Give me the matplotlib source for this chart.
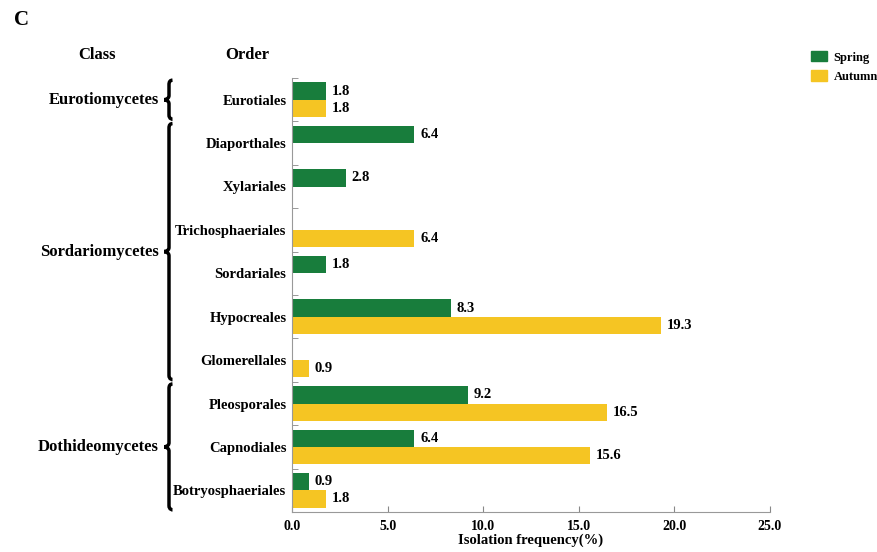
import numpy as np
import matplotlib.pyplot as plt
import matplotlib.transforms as mtransforms
from matplotlib.path import Path
from matplotlib.patches import PathPatch, Patch

plt.rcParams['font.family'] = ['Liberation Serif', 'DejaVu Serif']
plt.rcParams['font.weight'] = 'bold'

orders = ['Eurotiales', 'Diaporthales', 'Xylariales', 'Trichosphaeriales',
          'Sordariales', 'Hypocreales', 'Glomerellales', 'Pleosporales',
          'Capnodiales', 'Botryosphaeriales']
spring = [1.8, 6.4, 2.8, None, 1.8, 8.3, None, 9.2, 6.4, 0.9]
autumn = [1.8, None, None, 6.4, None, 19.3, 0.9, 16.5, 15.6, 1.8]
classes = ['Eurotiomycetes', 'Sordariomycetes', 'Dothideomycetes']
class_span = [(0, 0), (1, 6), (7, 9)]  # first/last order index per class

green = '#187d3c'
yellow = '#f5c523'

fig = plt.figure(figsize=(8.78, 5.52), dpi=100)
ax = fig.add_axes([292 / 878, 1 - 512 / 552, 478 / 878, 434 / 552])

y = np.arange(len(orders))
bh = 0.4
for i in y:
    if spring[i] is not None:
        ax.barh(i - bh / 2, spring[i], height=bh, color=green)
        ax.text(spring[i] + 0.3, i - bh / 2, f'{spring[i]:.1f}', va='center',
                ha='left', fontsize=10.5, fontweight='bold')
    if autumn[i] is not None:
        ax.barh(i + bh / 2, autumn[i], height=bh, color=yellow)
        ax.text(autumn[i] + 0.3, i + bh / 2, f'{autumn[i]:.1f}', va='center',
                ha='left', fontsize=10.5, fontweight='bold')

ax.set_xlim(0, 25)
ax.set_ylim(len(orders) - 0.5, -0.5)
ax.set_xticks(np.arange(0, 25.1, 5))
ax.set_xticklabels([f'{v:.1f}' for v in np.arange(0, 25.1, 5)], fontsize=10,
                   fontweight='bold')
ax.tick_params(axis='x', direction='in', length=4, color='#888888', pad=6)
ax.set_yticks(y)
ax.set_yticklabels(orders, fontsize=10.5, fontweight='bold')
ax.tick_params(axis='y', which='major', length=0, pad=4)
ax.set_yticks(np.arange(-0.5, len(orders), 1), minor=True)
ax.tick_params(axis='y', which='minor', direction='in', length=4, color='#888888')
for s in ['top', 'right']:
    ax.spines[s].set_visible(False)
for s in ['left', 'bottom']:
    ax.spines[s].set_color('#999999')
ax.set_xlabel('Isolation frequency(%)', fontsize=10.5, fontweight='bold', labelpad=0)

# curly braces grouping orders into classes
W, H = 878, 552
tr = mtransforms.blended_transform_factory(fig.transFigure, ax.transData)
for name, (a, b) in zip(classes, class_span):
    top, bot = a - 0.45, b + 0.45
    mid = (top + bot) / 2
    x0 = 169 / W
    hw = 3.5 / W
    tip = 5 / W
    dv = 0.1
    verts = [(x0 + hw, top), (x0, top), (x0, top + dv),
             (x0, mid - dv),
             (x0, mid), (x0 - tip, mid), (x0 - tip, mid),
             (x0 - tip, mid), (x0, mid), (x0, mid + dv),
             (x0, bot - dv),
             (x0, bot), (x0 + hw, bot), (x0 + hw, bot)]
    codes = [Path.MOVETO, Path.CURVE3, Path.CURVE3, Path.LINETO,
             Path.CURVE4, Path.CURVE4, Path.CURVE4,
             Path.CURVE4, Path.CURVE4, Path.CURVE4,
             Path.LINETO, Path.CURVE4, Path.CURVE4, Path.CURVE4]
    ax.add_patch(PathPatch(Path(verts, codes), transform=tr, fill=False,
                           lw=2.5, color='black', clip_on=False,
                           capstyle='butt'))
    ax.text(159 / W, mid, name, transform=tr, ha='right', va='center',
            fontsize=12, fontweight='bold')

fig.text(97 / W, 1 - 55 / H, 'Class', ha='center', va='center', fontsize=12,
         fontweight='bold')
fig.text(247 / W, 1 - 55 / H, 'Order', ha='center', va='center', fontsize=12,
         fontweight='bold')
fig.text(14 / W, 1 - 20 / H, 'C', ha='left', va='center', fontsize=15,
         fontweight='bold')

handles = [Patch(color=green, label='Spring'), Patch(color=yellow, label='Autumn')]
fig.legend(handles=handles, loc='upper left', bbox_to_anchor=(811 / W, 1 - 51 / H),
           frameon=False, handlelength=1.3, handleheight=0.9,
           handletextpad=0.5, labelspacing=0.55, borderaxespad=0, borderpad=0,
           prop={'weight': 'bold', 'size': 9})

fig.savefig('out.png', dpi=100)
